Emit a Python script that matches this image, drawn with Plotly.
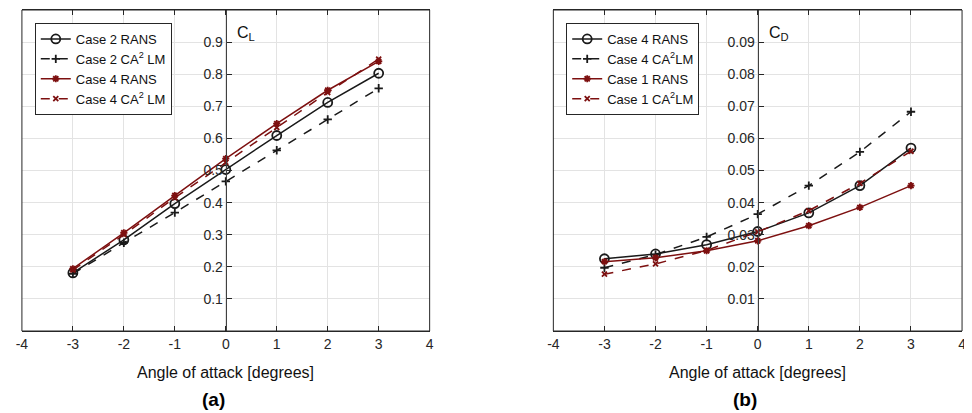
import plotly.graph_objects as go

alpha = [-3, -2, -1, 0, 1, 2, 3]

# Panel (a): lift coefficient
cl_case2_rans = [0.181, 0.284, 0.397, 0.503, 0.609, 0.712, 0.803]
cl_case2_lm = [0.178, 0.275, 0.369, 0.466, 0.563, 0.659, 0.756]
cl_case4_rans = [0.194, 0.306, 0.422, 0.537, 0.646, 0.750, 0.840]
cl_case4_lm = [0.190, 0.300, 0.415, 0.525, 0.634, 0.743, 0.847]

# Panel (b): drag coefficient
cd_case4_rans = [0.0225, 0.0240, 0.0269, 0.0310, 0.0368, 0.0453, 0.0570]
cd_case4_lm = [0.0197, 0.0238, 0.0293, 0.0364, 0.0453, 0.0558, 0.0683]
cd_case1_rans = [0.0216, 0.0228, 0.0250, 0.0281, 0.0328, 0.0385, 0.0453]
cd_case1_lm = [0.0177, 0.0209, 0.0251, 0.0309, 0.0375, 0.0460, 0.0560]

x_ticks = [-4, -3, -2, -1, 0, 1, 2, 3, 4]
x_ticktext = ["-4", "-3", "-2", "-1", "0", "1", "2", "3", "4"]
cl_ticks = [0.1, 0.2, 0.3, 0.4, 0.5, 0.6, 0.7, 0.8, 0.9]
cd_ticks = [0.01, 0.02, 0.03, 0.04, 0.05, 0.06, 0.07, 0.08, 0.09]

BLACK = "#1a1a1a"
RED = "#7d1010"
AXC = "#262626"
GRID = "#e3e3e3"
FONT = "Liberation Sans, Arial, sans-serif"

# page has an 8px body margin; work in page pixels and convert
OFF = 8
W, H = 972 - OFF, 413 - OFF


def px(x):
    return (x - OFF) / W


def py(y):
    return (H - (y - OFF)) / H


xd1 = [px(16), px(428)]
xd2 = [px(553), px(966)]
yd = [py(331), py(10)]

fig = go.Figure()


def add(x, y, name, color, dash, symbol, xa, ya, legend, msize=8):
    fig.add_trace(go.Scatter(
        x=x, y=y, name=name, mode="lines+markers",
        line=dict(color=color, width=1.5, dash=dash),
        marker=dict(symbol=symbol, size=msize, color=color,
                    line=dict(color=color, width=1.8)),
        xaxis=xa, yaxis=ya, legend=legend))


add(alpha, cl_case2_rans, "Case 2 RANS", BLACK, "solid", "circle-open", "x", "y", "legend", 9)
add(alpha, cl_case2_lm, "Case 2 CA<sup>2</sup> LM", BLACK, "dash", "cross-thin-open", "x", "y", "legend", 6)
add(alpha, cl_case4_rans, "Case 4 RANS", RED, "solid", "asterisk-open", "x", "y", "legend", 6)
add(alpha, cl_case4_lm, "Case 4 CA<sup>2</sup> LM", RED, "dash", "x-thin-open", "x", "y", "legend", 5)

add(alpha, cd_case4_rans, "Case 4 RANS", BLACK, "solid", "circle-open", "x2", "y2", "legend2", 9)
add(alpha, cd_case4_lm, "Case 4 CA<sup>2</sup>LM", BLACK, "dash", "cross-thin-open", "x2", "y2", "legend2", 6)
add(alpha, cd_case1_rans, "Case 1 RANS", RED, "solid", "asterisk-open", "x2", "y2", "legend2", 6)
add(alpha, cd_case1_lm, "Case 1 CA<sup>2</sup>LM", RED, "dash", "x-thin-open", "x2", "y2", "legend2", 5)

xcommon = dict(range=[-4, 4], tickvals=x_ticks, ticktext=x_ticktext,
               showgrid=True, gridcolor=GRID, gridwidth=1, zeroline=False,
               showline=True, linecolor=AXC, linewidth=1, mirror="ticks",
               ticks="inside", ticklen=5, tickcolor=AXC,
               tickfont=dict(family=FONT, size=14, color=AXC))

ycommon = dict(domain=yd, anchor="free", showgrid=True, gridcolor=GRID, zeroline=False,
               showline=True, linecolor="#404040", linewidth=1.2,
               ticks="inside", ticklen=5, tickcolor=AXC,
               tickfont=dict(family=FONT, size=14, color=AXC))

legcommon = dict(xanchor="left", yanchor="top", bgcolor="white",
                 bordercolor=AXC, borderwidth=1,
                 font=dict(family=FONT, size=13, color="#111111"),
                 tracegroupgap=0, itemwidth=30)

fig.update_layout(
    width=W, height=H,
    margin=dict(l=0, r=0, t=0, b=0),
    paper_bgcolor="white", plot_bgcolor="white",
    font=dict(family=FONT, color=AXC),
    xaxis=dict(domain=xd1, anchor="y", **xcommon),
    xaxis2=dict(domain=xd2, anchor="y2", **xcommon),
    yaxis=dict(range=[0, 1], position=px(222),
               tickvals=cl_ticks, ticktext=[f"{v:.1f}" for v in cl_ticks], **ycommon),
    yaxis2=dict(range=[0, 0.1], position=px(759.5),
                tickvals=cd_ticks, ticktext=[f"{v:.2f}" for v in cd_ticks], **ycommon),
    legend=dict(x=px(29), y=py(23), **legcommon),
    legend2=dict(x=px(566), y=py(23), **legcommon),
    showlegend=True,
)

# box outlines
for xr, yr in (("x domain", "y domain"), ("x2 domain", "y2 domain")):
    fig.add_shape(type="rect", xref=xr, yref=yr, x0=0, x1=1, y0=0, y1=1,
                  line=dict(color=AXC, width=1), layer="above")

for txt, xl in (("C<sub>L</sub>", 231), ("C<sub>D</sub>", 769)):
    fig.add_annotation(text=txt, x=px(xl), y=py(22), xref="paper", yref="paper",
                       xanchor="left", yanchor="top", showarrow=False,
                       font=dict(family=FONT, size=16, color="#111111"))

for xc in (222, 759.5):
    fig.add_annotation(text="Angle of attack [degrees]", x=px(xc), y=py(372),
                       xref="paper", yref="paper",
                       xanchor="center", yanchor="middle", showarrow=False,
                       font=dict(family=FONT, size=16, color="#111111"))

for txt, xc in (("<b>(a)</b>", 210), ("<b>(b)</b>", 747)):
    fig.add_annotation(text=txt, x=px(xc), y=py(399), xref="paper", yref="paper",
                       xanchor="center", yanchor="middle", showarrow=False,
                       font=dict(family=FONT, size=19, color="#000000"))

fig.write_html("out.html")
